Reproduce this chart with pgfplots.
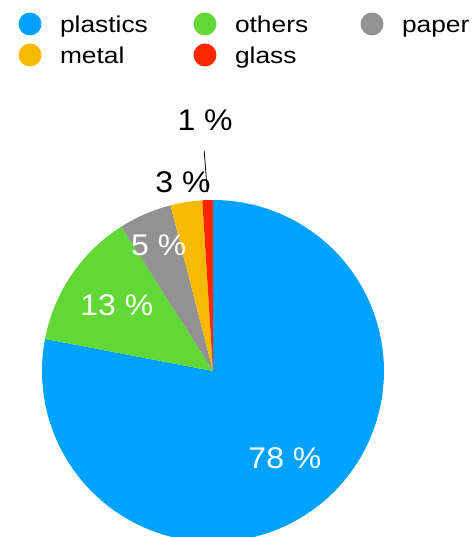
\documentclass[border=0pt]{standalone}
\usepackage{pgfplots}
\pgfplotsset{compat=1.18}
\usepackage{pgfplotstable}
\usepackage{fontspec}
\setmainfont{Liberation Sans}
\newfontfamily\legfont[FakeStretch=1.15]{Liberation Sans}
\newfontfamily\labfont[FakeStretch=1.07]{Liberation Sans}

\definecolor{cPlastics}{HTML}{00A2FF}
\definecolor{cOthers}{HTML}{61D836}
\definecolor{cPaper}{HTML}{929292}
\definecolor{cMetal}{HTML}{F8BA00}
\definecolor{cGlass}{HTML}{FF2600}

% share of each material (percent), clockwise from 12 o'clock
\pgfplotstableread{
material pct
plastics 78
others   13
paper    5
metal    3
glass    1
}\wastedata

\newcommand\getpct[2]{\pgfplotstablegetelem{#1}{pct}\of\wastedata\edef#2{\pgfplotsretval}}
\getpct{0}\pPla
\getpct{1}\pOth
\getpct{2}\pPap
\getpct{3}\pMet
\getpct{4}\pGla

% slice boundaries (degrees)
\pgfmathsetmacro\aStart{90}
\pgfmathsetmacro\aPla{\aStart-3.6*\pPla}
\pgfmathsetmacro\aOth{\aPla-3.6*\pOth}
\pgfmathsetmacro\aPap{\aOth-3.6*\pPap}
\pgfmathsetmacro\aMet{\aPap-3.6*\pMet}
\pgfmathsetmacro\aGla{\aMet-3.6*\pGla}
% slice mid angles
\pgfmathsetmacro\mPla{(\aStart+\aPla)/2}
\pgfmathsetmacro\mOth{(\aPla+\aOth)/2}
\pgfmathsetmacro\mPap{(\aOth+\aPap)/2}
\pgfmathsetmacro\mMet{(\aPap+\aMet)/2}
\pgfmathsetmacro\mGla{(\aMet+\aGla)/2}

% pie centre and radius in axis units
\def\cx{213}
\def\cy{166}
\def\rr{171}

\newcommand\slice[3]{%
  \addplot[fill=#1, draw=none, domain=#2:#3, samples=150, variable=\t]
    ({\cx+\rr*cos(\t)},{\cy+\rr*sin(\t)}) -- (axis cs:\cx,\cy) -- cycle;}

\newcommand\pielabel[4]{%
  \node[text=#3, inner sep=0pt, font=\labfont\fontsize{30}{36}\selectfont]
    at (axis cs:{\cx+#1*\rr*cos(#2)},{\cy+#1*\rr*sin(#2)}) {#4};}

\begin{document}
\begin{tikzpicture}
\begin{axis}[
  scale only axis,
  width=476bp, height=537bp,
  xmin=0, xmax=476, ymin=0, ymax=537,
  hide axis,
  clip=true,
  legend columns=3,
  legend cell align=left,
  legend image code/.code={\fill[#1] (11.5bp,3bp) circle (11.5bp);},
  legend style={
    draw=none, fill=none, inner sep=0pt, outer sep=0pt,
    at={(axis cs:18.5,524.5)}, anchor=north west,
    row sep=5.5bp, column sep=0pt,
    font=\legfont\fontsize{23}{27}\selectfont,
    nodes={inner sep=0pt, text height=17bp, text depth=5bp},
    /tikz/every odd column/.append style={column sep=18.5bp},
    /tikz/every even column/.append style={column sep=10bp},
  },
]
\slice{cPlastics}{\aPla}{\aStart}
\addlegendentry{\makebox[123.5bp][l]{plastics}}
\slice{cOthers}{\aOth}{\aPla}
\addlegendentry{\makebox[115.5bp][l]{others}}
\slice{cPaper}{\aPap}{\aOth}
\addlegendentry{paper}
\slice{cMetal}{\aMet}{\aPap}
\addlegendentry{\makebox[123.5bp][l]{metal}}
\slice{cGlass}{\aGla}{\aMet}
\addlegendentry{\makebox[115.5bp][l]{glass}}

\pielabel{0.66}{\mPla}{white}{\pPla\ \%}
\pielabel{0.68}{\mOth}{white}{\pOth\ \%}
\pielabel{0.80}{\mPap}{white}{\pPap\ \%}
\pielabel{1.12}{\mMet}{black}{\pMet\ \%}
\pielabel{1.47}{\mGla}{black}{\pGla\ \%}
% leader line for the smallest slice
\draw[black, line width=0.8pt]
  (axis cs:{\cx+1.047*\rr*cos(\mGla)},{\cy+1.047*\rr*sin(\mGla)}) --
  (axis cs:{\cx+1.29*\rr*cos(\mGla+0.5)},{\cy+1.29*\rr*sin(\mGla+0.5)});
\end{axis}
\pgfresetboundingbox
\path[use as bounding box] (current axis.south west) rectangle (current axis.north east);
\end{tikzpicture}
\end{document}
